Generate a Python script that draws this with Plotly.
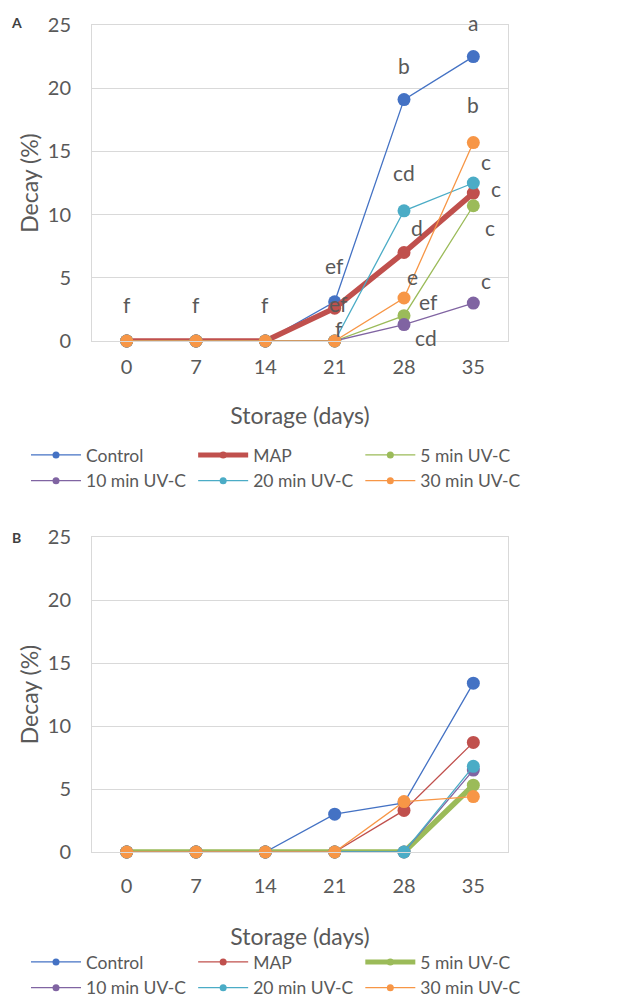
import plotly.graph_objects as go

# ---------------- data ----------------
days = ["0", "7", "14", "21", "28", "35"]
series_names = ["Control", "MAP", "5 min UV-C", "10 min UV-C", "20 min UV-C", "30 min UV-C"]

# Panel A
control_a = [0, 0, 0, 3.1, 19.1, 22.5]
map_a = [0, 0, 0, 2.6, 7.0, 11.7]
uv5_a = [0, 0, 0, 0, 2.0, 10.7]
uv10_a = [0, 0, 0, 0, 1.3, 3.0]
uv20_a = [0, 0, 0, 0, 10.3, 12.5]
uv30_a = [0, 0, 0, 0, 3.4, 15.7]

# Panel B
control_b = [0, 0, 0, 3.0, 3.9, 13.4]
map_b = [0, 0, 0, 0, 3.3, 8.7]
uv5_b = [0, 0, 0, 0, 0, 5.3]
uv10_b = [0, 0, 0, 0, 0, 6.5]
uv20_b = [0, 0, 0, 0, 0, 6.8]
uv30_b = [0, 0, 0, 0, 4.0, 4.4]

# significance letters (panel A)
letter_day = ["0", "7", "14", "21", "21", "21", "28", "28", "28", "28", "28", "28",
              "35", "35", "35", "35", "35", "35"]
letter_text = ["f", "f", "f", "ef", "ef", "f", "b", "cd", "d", "e", "ef", "cd",
               "a", "b", "c", "c", "c", "c"]
letter_y = [2.85, 2.85, 2.85, 6.0, 3.0, 1.0, 21.8, 13.3, 9.0, 5.1, 3.1, 0.3,
            25.2, 18.7, 14.2, 12.1, 9.0, 4.8]
letter_dx = [0, 0, 0, 0, 4, 4, 0, 0, 13, 8, 24, 22, 0, 0, 13, 23, 17, 13]

y_ticks = [0, 5, 10, 15, 20, 25]
y_max = 25

# ---------------- style ----------------
colors = ["#4472C4", "#C0504D", "#9BBB59", "#8064A2", "#4BACC6", "#F79646"]
FONT = "Lato"
TXT = "#595959"
GRID = "#D9D9D9"

panel_a = [control_a, map_a, uv5_a, uv10_a, uv20_a, uv30_a]
panel_b = [control_b, map_b, uv5_b, uv10_b, uv20_b, uv30_b]
thick_a = "MAP"
thick_b = "5 min UV-C"

fig = go.Figure()


def add_panel(values, thick, xa, ya, legend_name):
    for name, vals, col in zip(series_names, values, colors):
        w = 5.5 if name == thick else 1.3
        fig.add_trace(go.Scatter(
            x=days, y=vals, name=name, mode="lines+markers",
            line=dict(color=col, width=w),
            marker=dict(color=col, size=13),
            cliponaxis=False,
            xaxis=xa, yaxis=ya, showlegend=False, hoverinfo="skip"))
    # legend entries (smaller markers as in the original legend)
    for name, col in zip(series_names, colors):
        w = 5 if name == thick else 1.3
        fig.add_trace(go.Scatter(
            x=[None], y=[None], name=name, mode="lines+markers",
            line=dict(color=col, width=w),
            marker=dict(color=col, size=7),
            xaxis=xa, yaxis=ya, legend=legend_name, showlegend=True))


add_panel(panel_a, thick_a, "x", "y", "legend")
add_panel(panel_b, thick_b, "x2", "y2", "legend2")

W, H = 617, 1001
ML = 20
PW = W - ML


def px_x(p):
    return (p - ML) / PW


def px_y(p):
    return 1 - p / H


xdom = [px_x(92), px_x(508)]
PX_PER_UNIT = (341 - 25) / y_max


def x_axis(anchor, label_gap, title_gap):
    return dict(
        type="category", range=[-0.5, 5.5], showgrid=False,
        showline=True, linecolor=GRID, linewidth=1, mirror=True,
        ticks="", ticklabelstandoff=label_gap, automargin=False,
        tickfont=dict(family=FONT, size=20, color=TXT),
        title=dict(text="Storage (days)", font=dict(family=FONT, size=23, color=TXT),
                   standoff=title_gap),
        domain=xdom, fixedrange=True, anchor=anchor,
    )


def y_axis(anchor, dom):
    return dict(
        range=[0, y_max], tickvals=y_ticks, showgrid=True, gridcolor=GRID, gridwidth=1,
        showline=True, linecolor=GRID, linewidth=1, mirror=True, zeroline=False,
        ticks="", ticklabelstandoff=16, automargin=False,
        tickfont=dict(family=FONT, size=20, color=TXT),
        title=dict(text="Decay (%)", font=dict(family=FONT, size=23, color=TXT), standoff=2),
        fixedrange=True, anchor=anchor, domain=dom,
    )


legend_common = dict(
    orientation="h", xanchor="left", yanchor="top",
    entrywidth=0.28, entrywidthmode="fraction", itemwidth=50,
    font=dict(family=FONT, size=17.5, color=TXT),
    bgcolor="rgba(0,0,0,0)", tracegroupgap=0, itemclick=False, itemdoubleclick=False,
)

fig.update_layout(
    width=W, height=H,
    margin=dict(l=ML, r=0, t=0, b=0, autoexpand=False),
    paper_bgcolor="white", plot_bgcolor="white",
    font=dict(family=FONT, color=TXT),
    xaxis=x_axis("y", 8, 30),
    yaxis=y_axis("x", [px_y(341), px_y(25)]),
    xaxis2=x_axis("y2", 16, 32),
    yaxis2=y_axis("x2", [px_y(852), px_y(537)]),
    legend=dict(legend_common, x=px_x(26), y=px_y(437)),
    legend2=dict(legend_common, x=px_x(26), y=px_y(944)),
)

annotations = []
for d, t, yv, dx in zip(letter_day, letter_text, letter_y, letter_dx):
    ya = min(yv, y_max)
    annotations.append(dict(
        x=days.index(d), y=ya, xref="x", yref="y", text=t, showarrow=False,
        xshift=dx, yshift=(yv - ya) * PX_PER_UNIT, xanchor="center", yanchor="middle",
        font=dict(family=FONT, size=21, color=TXT)))

for lab, ypix in [("A", 22), ("B", 537)]:
    annotations.append(dict(
        x=px_x(16), y=px_y(ypix), xref="paper", yref="paper", text="<b>" + lab + "</b>",
        showarrow=False, xanchor="center", yanchor="middle",
        font=dict(family=FONT, size=14, color="#404040")))

fig.update_layout(annotations=annotations)

fig.write_html("out.html", config={"displayModeBar": False},
               post_script="document.body.style.margin='0px';document.body.style.overflow='hidden';")
